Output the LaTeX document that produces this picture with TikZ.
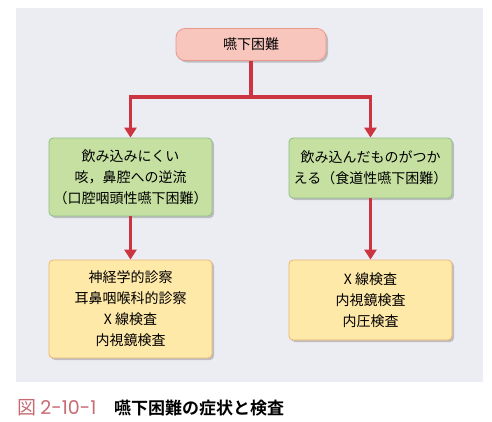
\documentclass[tikz,border=0pt]{standalone}
\usepackage{fontspec}
\setmainfont{Noto Sans CJK JP}
\newfontfamily\jpbold{Noto Sans CJK JP}[BoldFont={* Bold}]
\newfontfamily\capnum{Poppins}
\usetikzlibrary{shadows,arrows.meta}
\definecolor{panel}{HTML}{ECEDF2}
\definecolor{topfill}{HTML}{F9C6BE}
\definecolor{topdraw}{HTML}{E9998C}
\definecolor{grnfill}{HTML}{C6E0A2}
\definecolor{grndraw}{HTML}{8FBF86}
\definecolor{yelfill}{HTML}{FFE9A9}
\definecolor{yeldraw}{HTML}{EDB574}
\definecolor{arrowred}{HTML}{CC3441}
\definecolor{capred}{HTML}{C76A72}
\begin{document}
\begin{tikzpicture}[x=1pt,y=-1pt,
  boxbase/.style={rounded corners=4pt, line width=0.8pt, align=center,
    font=\fontsize{14}{21}\selectfont, inner sep=0pt,
    drop shadow={shadow xshift=2pt, shadow yshift=-2pt, opacity=0.35, fill=black!60}},
  topbox/.style={boxbase, fill=topfill, draw=topdraw, rounded corners=9pt},
  grnbox/.style={boxbase, fill=grnfill, draw=grndraw},
  yelbox/.style={boxbase, fill=yelfill, draw=yeldraw},
  conn/.style={draw=arrowred, line width=3.5pt, -{Triangle[width=12pt,length=10pt]}}
]
\useasboundingbox (0,0) rectangle (492,421);
\fill[panel] (16,8) rectangle (483,382);
\node[topbox, minimum width=150pt, minimum height=32pt] (top) at (251,44.5) {嚥下困難};
\node[grnbox, minimum width=163pt, minimum height=78pt] (gl) at (130.5,177) {飲み込みにくい\\咳，鼻腔への逆流\\（口腔咽頭性嚥下困難）};
\node[grnbox, minimum width=163pt, minimum height=60pt] (gr) at (370.5,168) {飲み込んだものがつか\\える（食道性嚥下困難）};
\node[yelbox, minimum width=163pt, minimum height=98pt] (yl) at (130.5,309) {神経学的診察\\耳鼻咽喉科的診察\\X 線検査\\内視鏡検査};
\node[yelbox, minimum width=163pt, minimum height=80pt] (yr) at (370.5,300) {X 線検査\\内視鏡検査\\内圧検査};
\coordinate (j) at (251,97);
\draw[conn] (top.south) -- (j) -| (gl.north);
\draw[conn] (j) -| (gr.north);
\draw[conn] (gl.south) -- (yl.north);
\draw[conn] (gr.south) -- (yr.north);
\node[anchor=base west, inner sep=0pt, font=\fontsize{19}{19}\selectfont, text=capred] (cap1) at (17,414) {図 {\capnum 2-10-1}};
\node[anchor=base west, inner sep=0pt, font=\jpbold\bfseries\fontsize{17}{17}\selectfont] (cap2) at (114,414) {嚥下困難の症状と検査};
\end{tikzpicture}
\end{document}
